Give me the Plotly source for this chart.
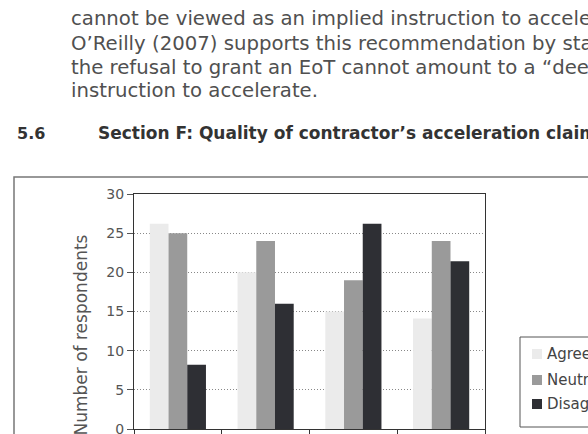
import plotly.graph_objects as go

# ---- data ----
categories = ["Q1", "Q2", "Q3", "Q4"]
agree = [26.2, 20.0, 15.0, 14.1]
neutral = [25.0, 24.0, 19.0, 24.0]
disagree = [8.2, 16.0, 26.2, 21.4]
series_names = ["Agree", "Neutral", "Disagree"]
y_ticks = [0, 5, 10, 15, 20, 25, 30]

body_lines = [
    "cannot be viewed as an implied instruction to accelerate.",
    "O\u2019Reilly (2007) supports this recommendation by stating that",
    "the refusal to grant an EoT cannot amount to a \u201cdeemed\u201d",
    "instruction to accelerate.",
]
heading_num = "5.6"
heading_text = "Section F: Quality of contractor\u2019s acceleration claims"
y_title = "Number of respondents"

# ---- layout geometry (pixels) ----
W, H = 588, 434
L, R, T, B = 134, 103, 194, 5
PW, PH = W - L - R, H - T - B

def px(x):
    return (x - L) / PW

def py(y):
    return (H - B - y) / PH

FONT = "DejaVu Sans"
colors = ["#ebebeb", "#9a9a9a", "#2e2f34"]

fig = go.Figure()
for name, vals, c in zip(series_names, [agree, neutral, disagree], colors):
    fig.add_trace(go.Bar(x=categories, y=vals, name=name, marker_color=c,
                         marker_line_width=0, showlegend=False))

annotations = []
line_y = [18, 43, 67, 90]
for txt, yy in zip(body_lines, line_y):
    annotations.append(dict(text=txt, x=px(69), y=py(yy), xref="paper", yref="paper",
                            xanchor="left", yanchor="middle", showarrow=False,
                            font=dict(family=FONT, size=19.7, color="#505050")))
annotations.append(dict(text="<b>" + heading_num + "</b>", x=px(15), y=py(133), xref="paper",
                        yref="paper", xanchor="left", yanchor="middle", showarrow=False,
                        font=dict(family=FONT, size=16, color="#333")))
annotations.append(dict(text="<b>" + heading_text + "</b>", x=px(96), y=py(133), xref="paper",
                        yref="paper", xanchor="left", yanchor="middle", showarrow=False,
                        font=dict(family=FONT, size=17, color="#333")))
annotations.append(dict(text=y_title, x=px(80), y=py(233), xref="paper", yref="paper",
                        xanchor="center", yanchor="top", textangle=-90, showarrow=False,
                        font=dict(family=FONT, size=17, color="#555")))

shapes = [dict(type="rect", xref="paper", yref="paper", x0=px(14), x1=px(640),
               y0=py(177), y1=py(470), line=dict(color="#777", width=1.5),
               fillcolor="rgba(0,0,0,0)", layer="below")]

# legend box (drawn manually to match the reference's compact layout)
shapes.append(dict(type="rect", xref="paper", yref="paper", x0=px(520), x1=px(640),
                   y0=py(337), y1=py(427), line=dict(color="#555", width=1),
                   fillcolor="white", layer="above"))
leg_y = [354, 380, 404]
for name, c, yy in zip(series_names, colors, leg_y):
    shapes.append(dict(type="rect", xref="paper", yref="paper", x0=px(532), x1=px(542),
                       y0=py(yy + 5), y1=py(yy - 5), line=dict(width=0), fillcolor=c,
                       layer="above"))
    annotations.append(dict(text=name, x=px(545), y=py(yy), xref="paper", yref="paper",
                            xanchor="left", yanchor="middle", showarrow=False,
                            font=dict(family=FONT, size=15, color="#444")))

fig.update_layout(
    width=W, height=H,
    margin=dict(l=L, r=R, t=T, b=B, autoexpand=False),
    paper_bgcolor="white", plot_bgcolor="white",
    barmode="group", bargap=0.36, bargroupgap=0,
    font=dict(family=FONT, color="#555"),
    showlegend=False,
    annotations=annotations,
    shapes=shapes,
)
fig.update_xaxes(showticklabels=False, ticks="outside", tickson="boundaries", ticklen=8,
                 tickcolor="#333", showline=True, linecolor="#333", linewidth=1,
                 mirror=True, showgrid=False, automargin=False)
fig.update_yaxes(range=[0, 30], tickvals=y_ticks, ticks="outside", ticklen=6,
                 tickcolor="#555", showline=True, linecolor="#333", linewidth=1,
                 mirror=True, showgrid=True, gridcolor="#888", griddash="1px,2px",
                 gridwidth=1, zeroline=False, automargin=False,
                 ticklabeloverflow="allow",
                 tickfont=dict(family=FONT, size=14, color="#555"))

fig.write_html("out.html")
